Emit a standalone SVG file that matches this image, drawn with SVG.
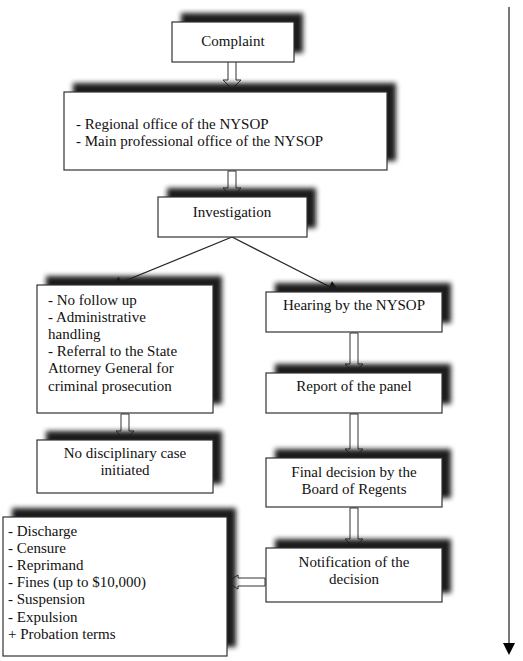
<svg xmlns="http://www.w3.org/2000/svg" width="523" height="661" viewBox="0 0 523 661">
<style>
.box{fill:#fff;stroke:#333;stroke-width:1.2}
.sh{fill:#1e1e1e;filter:url(#blur)}
text{font-family:"Liberation Serif","Times New Roman",serif;font-size:15px;fill:#111}
.c{text-anchor:middle}
.blk{fill:#fff;stroke:#333;stroke-width:1}
.ln{stroke:#222;stroke-width:1.2;fill:none}
</style>
<defs>
<filter id="blur" x="-20%" y="-40%" width="140%" height="180%"><feGaussianBlur stdDeviation="2.6"/></filter>
<marker id="ah" viewBox="0 0 10 10" refX="10" refY="5" markerWidth="14" markerHeight="12" markerUnits="userSpaceOnUse" orient="auto"><path d="M0,0 L10,5 L0,10 z" fill="#000"/></marker>
</defs>
<rect width="523" height="661" fill="#fff"/>

<g id="connectors">
<path class="blk" d="M228,61 V80 H223 L232,89 L241,80 H236 V61 Z"/>
<path class="blk" d="M228,171 V188 H223 L232,197 L241,188 H236 V171 Z"/>
<path class="blk" d="M121,414 V431 H116 L125,440 L134,431 H129 V414 Z"/>
<path class="blk" d="M350,333 V364 H345 L354,373 L363,364 H358 V333 Z"/>
<path class="blk" d="M350,414 V449 H345 L354,458 L363,449 H358 V414 Z"/>
<path class="blk" d="M350,508 V539 H345 L354,548 L363,539 H358 V508 Z"/>
<path class="blk" d="M265,578 H238 V575 L227,582 L238,589 V586 H265 Z"/>
<line class="ln" x1="232" y1="237" x2="110" y2="287" marker-end="url(#ah)"/>
<line class="ln" x1="232" y1="237" x2="340" y2="292" marker-end="url(#ah)"/>
<line x1="509" y1="7" x2="509" y2="645" stroke="#777" stroke-width="2"/>
<path d="M503,643 L515,643 L509,655 Z" fill="#000"/>
</g>

<g id="complaint">
<rect class="sh" x="181" y="13" width="122" height="40"/>
<rect class="box" x="172" y="22" width="122" height="40"/>
<text class="c" x="233" y="46">Complaint</text>
</g>

<g id="office">
<rect class="sh" x="73" y="83" width="323" height="78"/>
<rect class="box" x="64" y="92" width="323" height="78"/>
<text x="76" y="129">- Regional office of the NYSOP</text>
<text x="76" y="146">- Main professional office of the NYSOP</text>
</g>

<g id="investigation">
<rect class="sh" x="167" y="188" width="149" height="40"/>
<rect class="box" x="158" y="197" width="149" height="40"/>
<text class="c" x="232" y="217">Investigation</text>
</g>

<g id="nofollow">
<rect class="sh" x="46" y="276" width="176" height="128"/>
<rect class="box" x="37" y="285" width="176" height="128"/>
<text x="48" y="305">- No follow up</text>
<text x="48" y="322">- Administrative</text>
<text x="48" y="339">handling</text>
<text x="48" y="356">- Referral to the State</text>
<text x="48" y="373">Attorney General for</text>
<text x="48" y="391">criminal prosecution</text>
</g>

<g id="nodisc">
<rect class="sh" x="46" y="431" width="176" height="53"/>
<rect class="box" x="37" y="440" width="176" height="53"/>
<text class="c" x="125" y="458">No disciplinary case</text>
<text class="c" x="125" y="475">initiated</text>
</g>

<g id="hearing">
<rect class="sh" x="275" y="283" width="176" height="40"/>
<rect class="box" x="266" y="292" width="176" height="40"/>
<text class="c" x="354" y="310">Hearing by the NYSOP</text>
</g>

<g id="report">
<rect class="sh" x="275" y="364" width="176" height="40"/>
<rect class="box" x="266" y="373" width="176" height="40"/>
<text class="c" x="354" y="391">Report of the panel</text>
</g>

<g id="final">
<rect class="sh" x="275" y="449" width="176" height="49"/>
<rect class="box" x="266" y="458" width="176" height="49"/>
<text class="c" x="354" y="477">Final decision by the</text>
<text class="c" x="354" y="494">Board of Regents</text>
</g>

<g id="notification">
<rect class="sh" x="275" y="539" width="176" height="54"/>
<rect class="box" x="266" y="548" width="176" height="54"/>
<text class="c" x="354" y="567">Notification of the</text>
<text class="c" x="354" y="584">decision</text>
</g>

<g id="sanctions">
<rect class="sh" x="12" y="508" width="224" height="139"/>
<rect class="box" x="3" y="517" width="224" height="139"/>
<text x="8" y="536">- Discharge</text>
<text x="8" y="553">- Censure</text>
<text x="8" y="570">- Reprimand</text>
<text x="8" y="587">- Fines (up to $10,000)</text>
<text x="8" y="604">- Suspension</text>
<text x="8" y="622">- Expulsion</text>
<text x="8" y="639">+ Probation terms</text>
</g>
</svg>
